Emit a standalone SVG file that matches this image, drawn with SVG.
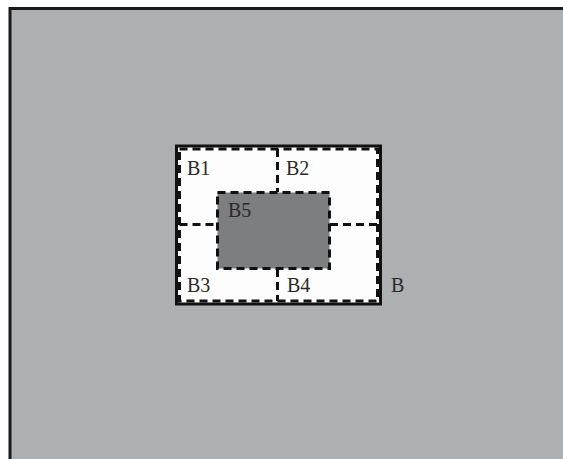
<svg xmlns="http://www.w3.org/2000/svg" width="563" height="459" viewBox="0 0 563 459">
<style>
.lbl{font-family:"Liberation Serif","Times New Roman",serif;font-size:20px;fill:#2a2a2a}
.dash{fill:none;stroke:#111;stroke-width:3;stroke-dasharray:8,5}
</style>
<rect x="0" y="0" width="563" height="459" fill="#ffffff"/>
<rect x="10" y="8.5" width="560" height="460" fill="#adb0b2" stroke="#1a1a1a" stroke-width="3"/>
<g id="B">
<rect x="176.5" y="146" width="204" height="158" fill="#fdfdfd" stroke="#111" stroke-width="3"/>
<rect x="179.5" y="149" width="198" height="152" class="dash"/>
<text class="lbl" x="391" y="292">B</text>
</g>
<g id="connectors">
<line x1="277.5" y1="149" x2="277.5" y2="192" class="dash"/>
<line x1="277.5" y1="269" x2="277.5" y2="301" class="dash"/>
<line x1="179.5" y1="224.5" x2="217" y2="224.5" class="dash"/>
<line x1="330" y1="224.5" x2="377.5" y2="224.5" class="dash"/>
</g>
<g id="B5">
<rect x="217.5" y="192.5" width="112" height="76" class="dash" style="fill:#7d7e80"/>
<text class="lbl" x="228" y="217">B5</text>
</g>
<g id="B1"><text class="lbl" x="187" y="175">B1</text></g>
<g id="B2"><text class="lbl" x="286" y="175">B2</text></g>
<g id="B3"><text class="lbl" x="187" y="292">B3</text></g>
<g id="B4"><text class="lbl" x="287" y="292">B4</text></g>
</svg>
